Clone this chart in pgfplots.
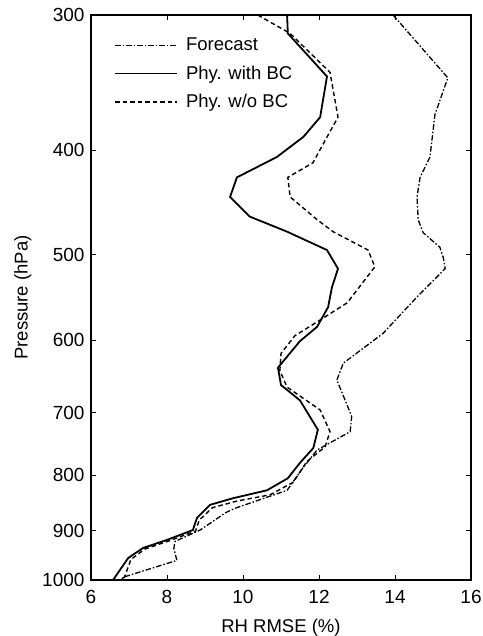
\documentclass[border=0pt]{standalone}
\usepackage{pgfplots}
\pgfplotsset{compat=1.18}
\usepackage{fontspec}
\setmainfont{Liberation Sans}

% RMSE profiles, x = RH RMSE (%), y = pressure (hPa)
\pgfplotstableread{
x p
13.95 300
15.39 343
15.05 371
14.92 406
14.66 424
14.58 442
14.61 464
14.74 477
15.18 492
15.27 503
15.32 515
14.58 547
13.69 591
12.64 630
12.47 653
12.82 700
12.86 706
12.82 729
11.95 758
11.55 790
11.16 826
9.80 858
9.55 866
8.87 899
8.21 921
8.18 935
8.26 959
6.89 993
6.75 1000
}\forecast
\pgfplotstableread{
x p
11.16 300
11.18 312
12.21 342
12.03 373
11.59 389
10.89 406
9.84 424
9.66 442
10.18 461
11.16 476
12.21 495
12.50 515
12.34 536
12.24 559
11.95 583
11.50 601
10.92 636
11.00 660
11.50 682
11.97 726
11.85 755
11.50 779
11.18 805
10.63 826
9.74 840
9.13 852
8.79 876
8.68 899
8.00 918
7.37 934
6.98 954
6.58 1000
}\withbc
\pgfplotstableread{
x p
10.39 300
11.24 312
12.29 339
12.50 373
12.16 392
11.84 411
11.18 424
11.24 442
11.95 464
12.37 476
13.29 495
13.47 513
12.74 554
11.95 577
11.37 594
11.00 617
10.97 640
11.16 663
12.03 696
12.29 729
12.16 753
11.68 777
11.32 812
10.71 834
9.85 845
9.20 857
8.85 880
8.75 901
8.05 920
7.42 936
7.05 957
6.88 994
6.75 1000
}\wobc

\begin{document}
\begin{tikzpicture}
\begin{axis}[
  scale only axis, width=380pt, height=565pt,
  xmin=6, xmax=16, ymin=300, ymax=1000,
  ymode=log, y dir=reverse,
  xtick={6,8,...,16},
  ytick={300,400,500,600,700,800,900,1000},
  yticklabels={300,400,500,600,700,800,900,1000},
  minor tick num=0,
  tick align=inside, major tick length=5pt,
  axis line style={line width=1.3pt},
  every tick/.style={black, line width=1pt},
  /pgf/number format/assume math mode=true,
  tick label style={font=\fontsize{19}{21}\selectfont},
  xticklabel style={yshift=-7pt},
  yticklabel style={xshift=-3pt},
  label style={font=\fontsize{18.5}{21}\selectfont},
  xlabel={RH RMSE (\%)}, ylabel={Pressure (hPa)},
  xlabel style={at={(axis description cs:0.5,0)}, anchor=north, yshift=-36pt},
  ylabel style={at={(axis description cs:0,0.5)}, anchor=south, yshift=56pt},
  legend image code/.code={\draw[#1] (0pt,0pt) -- (62pt,0pt);},
  legend style={at={(axis description cs:0,1)}, anchor=north west,
    xshift=23pt, yshift=-21pt, draw=none, fill=none, inner sep=0pt,
    row sep=9.5pt, font=\fontsize{18.5}{20}\selectfont,
    nodes={inner xsep=8pt}},
  legend cell align=left,
]
\addplot[black, line width=1.3pt, dash pattern=on 5.5pt off 2pt on 1.5pt off 2pt] table[x=x, y=p] {\forecast};
\addlegendentry{Forecast}
\addplot[black, line width=1.8pt] table[x=x, y=p] {\withbc};
\addlegendentry{Phy. with BC}
\addplot[black, line width=1.4pt, dash pattern=on 4.5pt off 3pt] table[x=x, y=p] {\wobc};
\addlegendentry{Phy. w/o BC}
\end{axis}
\pgfresetboundingbox
\useasboundingbox (-91pt,-56pt) rectangle (391pt,580pt);
\end{tikzpicture}
\end{document}
